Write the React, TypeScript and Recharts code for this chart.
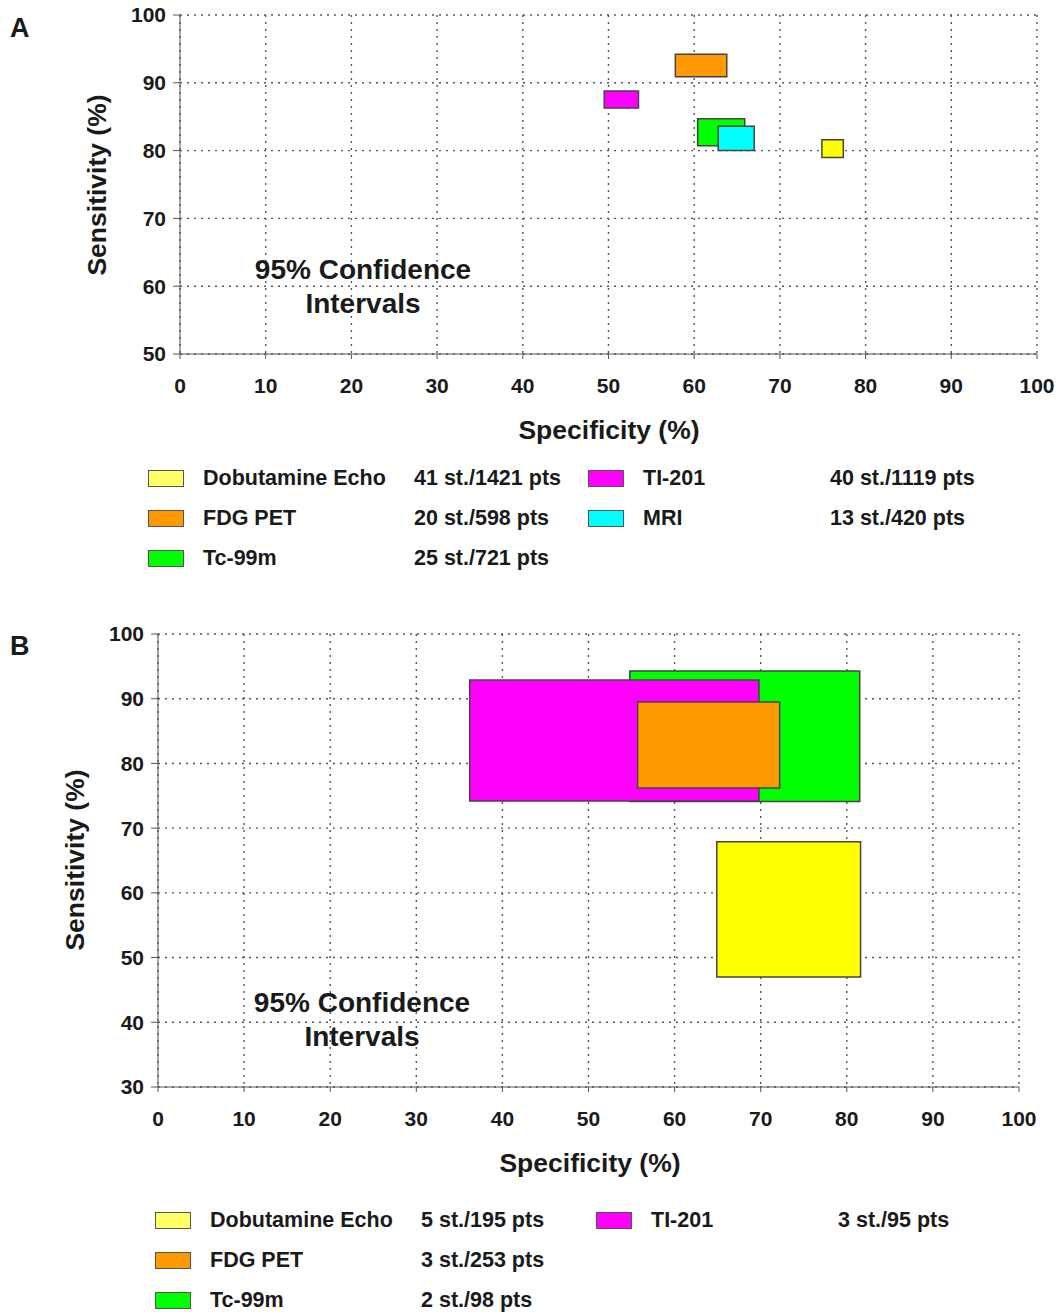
import { ScatterChart, XAxis, YAxis, CartesianGrid, ReferenceArea } from "recharts";

const specTicks = [0, 10, 20, 30, 40, 50, 60, 70, 80, 90, 100];
const sensTicksA = [50, 60, 70, 80, 90, 100];
const sensTicksB = [30, 40, 50, 60, 70, 80, 90, 100];

// panel A boxes, in drawing order
const boxNamesA = ["FDG PET", "TI-201", "Tc-99m", "MRI", "Dobutamine Echo"];
const specLowA = [57.8, 49.5, 60.4, 62.8, 74.9];
const specHighA = [63.8, 53.5, 65.9, 67.0, 77.4];
const sensLowA = [90.9, 86.3, 80.7, 80.0, 79.0];
const sensHighA = [94.2, 88.8, 84.7, 83.6, 81.6];

// panel B boxes, in drawing order
const boxNamesB = ["Tc-99m", "TI-201", "FDG PET", "Dobutamine Echo"];
const specLowB = [54.8, 36.2, 55.7, 64.9];
const specHighB = [81.5, 69.8, 72.2, 81.6];
const sensLowB = [74.1, 74.2, 76.2, 47.0];
const sensHighB = [94.3, 92.9, 89.5, 67.9];

// legends: [name, studies] per column
const legendA1 = [["Dobutamine Echo", "41 st./1421 pts"], ["FDG PET", "20 st./598 pts"], ["Tc-99m", "25 st./721 pts"]];
const legendA2 = [["TI-201", "40 st./1119 pts"], ["MRI", "13 st./420 pts"]];
const legendB1 = [["Dobutamine Echo", "5 st./195 pts"], ["FDG PET", "3 st./253 pts"], ["Tc-99m", "2 st./98 pts"]];
const legendB2 = [["TI-201", "3 st./95 pts"]];

const fills: Record<string, string> = {
  "Dobutamine Echo": "#ffff00",
  "FDG PET": "#ff9900",
  "Tc-99m": "#00ff00",
  "TI-201": "#ff00ff",
  MRI: "#00ffff",
};
const swatch: Record<string, string> = { ...fills, "Dobutamine Echo": "#ffff66" };

const FONT = "'Liberation Sans', Arial, sans-serif";
const tickStyle = { fontSize: 21, fontWeight: 700, fill: "#1a1a1a", fontFamily: FONT };

type Box = { name: string; x1: number; x2: number; y1: number; y2: number };

const toBoxes = (names: string[], xl: number[], xh: number[], yl: number[], yh: number[]): Box[] =>
  names.map((n, i) => ({ name: n, x1: xl[i], x2: xh[i], y1: yl[i], y2: yh[i] }));

const Panel = ({ top, height, margin, yTicks, boxes }: any) => (
  <div style={{ position: "absolute", left: 0, top }}>
    <ScatterChart width={1059} height={height} margin={margin}>
      <CartesianGrid stroke="#555" strokeWidth={1.4} strokeDasharray="2 5" />
      <XAxis
        type="number"
        dataKey="x"
        domain={[0, 100]}
        ticks={specTicks}
        tick={tickStyle}
        tickSize={5}
        tickMargin={19}
        height={40}
        stroke="#555"
        allowDataOverflow
      />
      <YAxis
        type="number"
        dataKey="y"
        domain={[yTicks[0], 100]}
        ticks={yTicks}
        tick={tickStyle}
        tickSize={7}
        tickMargin={7}
        width={60}
        stroke="#555"
        allowDataOverflow
      />
      {boxes.map((b: Box) => (
        <ReferenceArea
          key={b.name}
          x1={b.x1}
          x2={b.x2}
          y1={b.y1}
          y2={b.y2}
          fill={fills[b.name]}
          fillOpacity={1}
          stroke="#444"
          strokeWidth={1.5}
          ifOverflow="visible"
        />
      ))}
    </ScatterChart>
  </div>
);

const Legend = ({ top, left, rows, countLeft }: any) => (
  <>
    {rows.map((r: string[], i: number) => (
      <div key={r[0]} style={{ position: "absolute", top: top + i * 40, left, height: 24, display: "flex", alignItems: "center" }}>
        <div style={{ width: 36, height: 17, background: swatch[r[0]], border: "1.5px solid #555", boxSizing: "border-box" }} />
        <span style={{ position: "absolute", left: 55, whiteSpace: "nowrap" }}>{r[0]}</span>
        <span style={{ position: "absolute", left: countLeft, whiteSpace: "nowrap" }}>{r[1]}</span>
      </div>
    ))}
  </>
);

const abs = (x: number, y: number, extra: any = {}) => ({ position: "absolute" as const, left: x, top: y, whiteSpace: "nowrap" as const, ...extra });

export default function App() {
  const boxesA = toBoxes(boxNamesA, specLowA, specHighA, sensLowA, sensHighA);
  const boxesB = toBoxes(boxNamesB, specLowB, specHighB, sensLowB, sensHighB);
  return (
    <div style={{ position: "absolute", left: 0, top: 0, width: 1059, height: 1312, background: "#fff", fontFamily: FONT, fontWeight: 700, color: "#1a1a1a", fontSize: 21.5, overflow: "hidden" }}>
      <Panel top={0} height={450} margin={{ top: 15, right: 22, bottom: 56, left: 120 }} yTicks={sensTicksA} boxes={boxesA} />
      <Panel top={600} height={560} margin={{ top: 34, right: 40, bottom: 33, left: 98 }} yTicks={sensTicksB} boxes={boxesB} />

      <div style={abs(10, 13, { fontSize: 27 })}>A</div>
      <div style={abs(10, 631, { fontSize: 27 })}>B</div>

      <div style={abs(97, 185, { fontSize: 26.5, transform: "translate(-50%, -50%) rotate(-90deg)" })}>Sensitivity (%)</div>
      <div style={abs(75, 860, { fontSize: 26.5, transform: "translate(-50%, -50%) rotate(-90deg)" })}>Sensitivity (%)</div>
      <div style={abs(609, 430, { fontSize: 26.5, transform: "translate(-50%, -50%)" })}>Specificity (%)</div>
      <div style={abs(590, 1163, { fontSize: 26.5, transform: "translate(-50%, -50%)" })}>Specificity (%)</div>

      <div style={abs(363, 287, { fontSize: 28, textAlign: "center", lineHeight: "34px", transform: "translate(-50%, -50%)" })}>
        95% Confidence<br />Intervals
      </div>
      <div style={abs(362, 1020, { fontSize: 28, textAlign: "center", lineHeight: "34px", transform: "translate(-50%, -50%)" })}>
        95% Confidence<br />Intervals
      </div>

      <Legend top={466} left={148} rows={legendA1} countLeft={266} />
      <Legend top={466} left={588} rows={legendA2} countLeft={242} />
      <Legend top={1208} left={155} rows={legendB1} countLeft={266} />
      <Legend top={1208} left={596} rows={legendB2} countLeft={242} />
    </div>
  );
}
